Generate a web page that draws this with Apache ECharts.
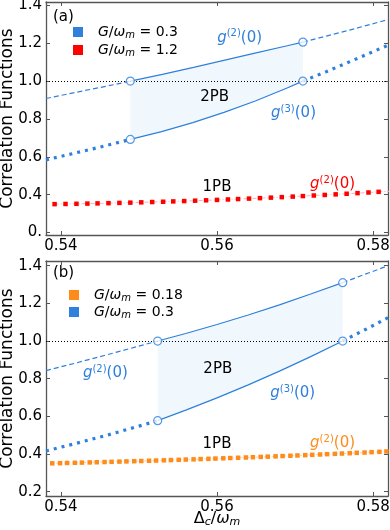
<!DOCTYPE html>
<html><head><meta charset="utf-8">
<script src="https://cdn.jsdelivr.net/npm/echarts@6/dist/echarts.min.js"></script>
<style>html,body{margin:0;padding:0;background:#fff}#c{width:390px;height:530px}</style>
</head><body><div id="c"></div>
<script>
// ---------- DATA ----------
const xTicks = [0.54, 0.56, 0.58];
const yTicks = [0.2, 0.4, 0.6, 0.8, 1.0, 1.2, 1.4];
const yTickLabelsA = ['0.', '0.4', '0.6', '0.8', '1.0', '1.2', '1.4'];
const yTickLabelsB = ['0.2', '0.4', '0.6', '0.8', '1.0', '1.2', '1.4'];

// Panel (a), G/wm = 0.3
const aG2Dash1X = [0.5381, 0.5410, 0.5440, 0.5470, 0.5489];
const aG2Dash1Y = [0.908, 0.933, 0.958, 0.983, 1.000];
const aG2SolidX = [0.5489, 0.5530, 0.5570, 0.5610, 0.5650, 0.5690, 0.5710];
const aG2SolidY = [1.000, 1.036, 1.073, 1.111, 1.149, 1.187, 1.206];
const aG2Dash2X = [0.5710, 0.5740, 0.5780, 0.5819];
const aG2Dash2Y = [1.206, 1.238, 1.281, 1.325];
const aG3Dot1X = [0.5381, 0.5410, 0.5440, 0.5470, 0.5489];
const aG3Dot1Y = [0.584, 0.612, 0.641, 0.672, 0.692];
const aG3SolidX = [0.5489, 0.5529, 0.5569, 0.5609, 0.5649, 0.5689, 0.5710];
const aG3SolidY = [0.692, 0.733, 0.781, 0.835, 0.895, 0.962, 1.000];
const aG3Dot2X = [0.5710, 0.5740, 0.5780, 0.5819];
const aG3Dot2Y = [1.000, 1.050, 1.120, 1.190];

// Panel (a), G/wm = 1.2 (red)
const aRedX = [0.5392, 0.5406, 0.5420, 0.5434, 0.5447, 0.5461, 0.5475, 0.5489, 0.5503, 0.5517, 0.5531, 0.5544, 0.5558, 0.5572, 0.5586, 0.5600, 0.5614, 0.5627, 0.5641, 0.5655, 0.5669, 0.5683, 0.5697, 0.5710, 0.5724, 0.5738, 0.5752, 0.5766, 0.5780, 0.5794, 0.5807, 0.5821];
const aRedY = [0.3500, 0.3509, 0.3518, 0.3529, 0.3540, 0.3552, 0.3566, 0.3580, 0.3595, 0.3611, 0.3627, 0.3645, 0.3663, 0.3683, 0.3703, 0.3724, 0.3747, 0.3770, 0.3793, 0.3818, 0.3844, 0.3870, 0.3898, 0.3926, 0.3956, 0.3986, 0.4017, 0.4049, 0.4082, 0.4115, 0.4150, 0.4185];

// Panel (b), G/wm = 0.3
const bG2Dash1X = [0.5381, 0.5420, 0.5460, 0.5500, 0.5524];
const bG2Dash1Y = [0.843, 0.884, 0.928, 0.973, 1.000];
const bG2SolidX = [0.5524, 0.5560, 0.5600, 0.5640, 0.5680, 0.5720, 0.5761];
const bG2SolidY = [1.000, 1.040, 1.088, 1.138, 1.192, 1.250, 1.310];
const bG2Dash2X = [0.5761, 0.5790, 0.5819];
const bG2Dash2Y = [1.310, 1.355, 1.400];
const bG3Dot1X = [0.5381, 0.5420, 0.5460, 0.5500, 0.5524];
const bG3Dot1Y = [0.416, 0.457, 0.501, 0.548, 0.577];
const bG3SolidX = [0.5524, 0.5560, 0.5600, 0.5640, 0.5680, 0.5720, 0.5761];
const bG3SolidY = [0.577, 0.633, 0.698, 0.767, 0.840, 0.917, 1.000];
const bG3Dot2X = [0.5761, 0.5790, 0.5819];
const bG3Dot2Y = [1.000, 1.061, 1.124];

// Panel (b), G/wm = 0.18 (orange)
const bOrX = [0.5389, 0.5399, 0.5408, 0.5418, 0.5427, 0.5437, 0.5446, 0.5456, 0.5465, 0.5475, 0.5484, 0.5494, 0.5503, 0.5513, 0.5522, 0.5532, 0.5541, 0.5551, 0.5560, 0.5570, 0.5579, 0.5589, 0.5598, 0.5608, 0.5617, 0.5627, 0.5637, 0.5646, 0.5656, 0.5665, 0.5675, 0.5684, 0.5694, 0.5703, 0.5713, 0.5722, 0.5732, 0.5741, 0.5751, 0.5760, 0.5770, 0.5779, 0.5789, 0.5798, 0.5808, 0.5817];
const bOrY = [0.3505, 0.3514, 0.3524, 0.3533, 0.3543, 0.3553, 0.3563, 0.3574, 0.3585, 0.3596, 0.3607, 0.3618, 0.3630, 0.3642, 0.3654, 0.3666, 0.3678, 0.3691, 0.3704, 0.3717, 0.3731, 0.3744, 0.3758, 0.3772, 0.3786, 0.3800, 0.3815, 0.3830, 0.3845, 0.3860, 0.3876, 0.3892, 0.3908, 0.3924, 0.3940, 0.3957, 0.3974, 0.3991, 0.4008, 0.4025, 0.4043, 0.4061, 0.4079, 0.4097, 0.4116, 0.4135];

// Annotations (data coordinates)
const annA = [
  {text: 'g2', x: 0.5629, y: 1.229, color: 'blue'},
  {text: '2PB', x: 0.5597, y: 0.915, color: 'black'},
  {text: 'g3', x: 0.5698, y: 0.829, color: 'blue'},
  {text: '1PB', x: 0.5600, y: 0.440, color: 'black'},
  {text: 'g2', x: 0.5748, y: 0.456, color: 'red'}
];
const annB = [
  {text: 'g2', x: 0.5457, y: 0.830, color: 'blue'},
  {text: '2PB', x: 0.5601, y: 0.851, color: 'black'},
  {text: 'g3', x: 0.5697, y: 0.723, color: 'blue'},
  {text: '1PB', x: 0.5600, y: 0.452, color: 'black'},
  {text: 'g2', x: 0.5748, y: 0.457, color: 'orange'}
];

// ---------- STYLE ----------
const BLUE = '#2f80dc', RED = '#ff0000', ORANGE = '#ff8c1a', SHADE = '#f0f8fd';
const COLORS = {blue: BLUE, red: RED, orange: ORANGE, black: '#000'};
const FONT = 'DejaVu Sans';
const XMIN = 0.5381, XMAX = 0.5819;
const YR = [[0.187, 1.418], [0.177, 1.425]];
const AX = '#555';

const zip = (xs, ys) => xs.map((x, i) => [x, ys[i]]);

function lineS(name, xs, ys, g, color, width, type, z) {
  return {type: 'line', name, xAxisIndex: 2 * g, yAxisIndex: 2 * g, data: zip(xs, ys),
    symbol: 'none', showSymbol: false, silent: true, clip: true, z: z || 3,
    itemStyle: {color}, lineStyle: {color, width, type, cap: 'butt'}};
}
function markS(name, xs, ys, g, color, lineColor, lineType) {
  return {type: 'line', name, xAxisIndex: 2 * g, yAxisIndex: 2 * g, data: zip(xs, ys),
    symbol: 'rect', symbolSize: 4.5, showSymbol: true, showAllSymbol: true, silent: true, clip: true, z: 4,
    itemStyle: {color, borderWidth: 0}, lineStyle: {color: lineColor, width: 1, type: lineType}};
}
function refLine(g) {
  return {type: 'line', name: 'ref' + g, xAxisIndex: 2 * g, yAxisIndex: 2 * g, data: [], silent: true, z: 2,
    markLine: {silent: true, symbol: ['none', 'none'], label: {show: false},
      lineStyle: {color: '#000', width: 1, type: [1, 2]}, data: [{yAxis: 1}]}};
}
function shade(g, x2, y2, x3, y3) {
  return {type: 'custom', xAxisIndex: 2 * g, yAxisIndex: 2 * g, silent: true, z: 1,
    data: [[x2[0], y2[0]]],
    renderItem: (params, api) => {
      const pts = zip(x2, y2).concat(zip(x3, y3).reverse()).map(p => api.coord(p));
      return {type: 'polygon', shape: {points: pts}, style: {fill: SHADE}};
    }};
}
function circles(g, x2, y2, x3, y3) {
  const n2 = x2.length - 1, n3 = x3.length - 1;
  return {type: 'scatter', xAxisIndex: 2 * g, yAxisIndex: 2 * g, silent: true, z: 6,
    data: [[x2[0], y2[0]], [x2[n2], y2[n2]], [x3[0], y3[0]], [x3[n3], y3[n3]]],
    symbol: 'circle', symbolSize: 8,
    itemStyle: {color: '#fff', borderColor: BLUE, borderWidth: 1.2}};
}

const grids = [
  {left: 46, top: 2, width: 342, height: 233, outerBoundsMode: 'none', containLabel: false},
  {left: 46, top: 261, width: 342, height: 235, outerBoundsMode: 'none', containLabel: false}
];
const xAxes = [], yAxes = [];
[0, 1].forEach(g => {
  const base = {type: 'value', gridIndex: g, min: XMIN, max: XMAX, splitLine: {show: false},
    axisLine: {show: true, onZero: false, lineStyle: {color: AX, width: 1.3}},
    axisTick: {show: true, inside: true, length: 4, customValues: xTicks, lineStyle: {color: AX, width: 1}}};
  xAxes.push(Object.assign({}, base, {position: 'bottom',
    axisLabel: {show: true, customValues: xTicks, formatter: v => v.toFixed(2), color: '#000', fontSize: 15, fontFamily: FONT, margin: 4},
    name: g === 1 ? '{n|Δ}{sub|c}{n|/}{i|ω}{sub|m}' : '', nameLocation: 'middle', nameGap: 14, nameMoveOverlap: false,
    nameTextStyle: {color: '#000', fontFamily: FONT, rich: {
      n: {fontSize: 16, fontFamily: FONT, color: '#000', lineHeight: 18},
      i: {fontSize: 16, fontFamily: FONT, fontStyle: 'italic', color: '#000', lineHeight: 18},
      sub: {fontSize: 11, fontFamily: FONT, fontStyle: 'italic', color: '#000', lineHeight: 8, verticalAlign: 'bottom'}}}}));
  xAxes.push(Object.assign({}, base, {position: 'top', axisLabel: {show: false}}));
  const labels = g === 0 ? yTickLabelsA : yTickLabelsB;
  const ybase = {type: 'value', gridIndex: g, min: YR[g][0], max: YR[g][1], splitLine: {show: false},
    axisLine: {show: true, onZero: false, lineStyle: {color: AX, width: 1.3}},
    axisTick: {show: true, inside: true, length: 4, customValues: yTicks, lineStyle: {color: AX, width: 1}}};
  yAxes.push(Object.assign({}, ybase, {position: 'left',
    axisLabel: {show: true, customValues: yTicks, color: '#000', fontSize: 15, fontFamily: FONT, margin: 4,
      formatter: v => { let k = 0; yTicks.forEach((t, i) => { if (Math.abs(t - v) < 1e-6) k = i; }); return labels[k]; }},
    name: 'Correlation Functions', nameLocation: 'middle', nameGap: 30, nameRotate: 90, nameMoveOverlap: false,
    nameTextStyle: {color: '#000', fontSize: 17, fontFamily: FONT}}));
  yAxes.push(Object.assign({}, ybase, {position: 'right', axisLabel: {show: false}}));
});

const series = [
  shade(0, aG2SolidX, aG2SolidY, aG3SolidX, aG3SolidY),
  refLine(0),
  lineS('a03', aG2Dash1X, aG2Dash1Y, 0, BLUE, 1.2, [5, 3]),
  lineS('a03', aG2SolidX, aG2SolidY, 0, BLUE, 1.2, 'solid'),
  lineS('a03', aG2Dash2X, aG2Dash2Y, 0, BLUE, 1.2, [5, 3]),
  lineS('a03', aG3Dot1X, aG3Dot1Y, 0, BLUE, 3.2, [3, 5]),
  lineS('a03', aG3SolidX, aG3SolidY, 0, BLUE, 1.2, 'solid'),
  lineS('a03', aG3Dot2X, aG3Dot2Y, 0, BLUE, 3.2, [3, 5]),
  circles(0, aG2SolidX, aG2SolidY, aG3SolidX, aG3SolidY),
  markS('a12', aRedX, aRedY, 0, RED, '#ffb0b0', [4, 2, 1, 2]),

  shade(1, bG2SolidX, bG2SolidY, bG3SolidX, bG3SolidY),
  refLine(1),
  markS('b018', bOrX, bOrY, 1, ORANGE, '#ffcc9e', [2, 2]),
  lineS('b03', bG2Dash1X, bG2Dash1Y, 1, BLUE, 1.2, [5, 3]),
  lineS('b03', bG2SolidX, bG2SolidY, 1, BLUE, 1.2, 'solid'),
  lineS('b03', bG2Dash2X, bG2Dash2Y, 1, BLUE, 1.2, [5, 3]),
  lineS('b03', bG3Dot1X, bG3Dot1Y, 1, BLUE, 3.2, [3, 5]),
  lineS('b03', bG3SolidX, bG3SolidY, 1, BLUE, 1.2, 'solid'),
  lineS('b03', bG3Dot2X, bG3Dot2Y, 1, BLUE, 3.2, [3, 5]),
  circles(1, bG2SolidX, bG2SolidY, bG3SolidX, bG3SolidY)
];

const legendText = {
  a03: '{i|G}{n|/}{i|ω}{sub|m}{n| = 0.3}',
  a12: '{i|G}{n|/}{i|ω}{sub|m}{n| = 1.2}',
  b018: '{i|G}{n|/}{i|ω}{sub|m}{n| = 0.18}',
  b03: '{i|G}{n|/}{i|ω}{sub|m}{n| = 0.3}'
};
const legRich = {
  n: {fontSize: 14, fontFamily: FONT, color: '#000', lineHeight: 16},
  i: {fontSize: 14, fontFamily: FONT, fontStyle: 'italic', color: '#000', lineHeight: 16},
  sub: {fontSize: 10, fontFamily: FONT, fontStyle: 'italic', color: '#000', lineHeight: 8, verticalAlign: 'bottom'}
};
function legend(names, left, top, gap) {
  return {data: names, left, top, padding: 0, orient: 'vertical', icon: 'rect', itemWidth: 10, itemHeight: 10, itemGap: gap,
    selectedMode: false, formatter: n => legendText[n],
    textStyle: {fontFamily: FONT, fontSize: 14, padding: [0, 0, 0, 10], rich: legRich}};
}

const chart = echarts.init(document.getElementById('c'), null, {renderer: 'canvas'});
chart.setOption({
  animation: false,
  textStyle: {fontFamily: FONT},
  grid: grids, xAxis: xAxes, yAxis: yAxes, series,
  legend: [legend(['a03', 'a12'], 73, 25, 3), legend(['b018', 'b03'], 69, 288, 2)]
});

const labRich = (color) => ({
  n: {fontSize: 15, fontFamily: FONT, color, lineHeight: 18},
  i: {fontSize: 15, fontFamily: FONT, fontStyle: 'italic', color, lineHeight: 18},
  sup: {fontSize: 10, fontFamily: FONT, color, lineHeight: 8, verticalAlign: 'top'}
});
function labelText(t) {
  if (t === 'g2') return '{i|g}{sup|(2)}{n|(0)}';
  if (t === 'g3') return '{i|g}{sup|(3)}{n|(0)}';
  return '{n|' + t + '}';
}
const graphic = [];
[[annA, 0], [annB, 1]].forEach(([list, g]) => {
  list.forEach(a => {
    const p = chart.convertToPixel({xAxisIndex: 2 * g, yAxisIndex: 2 * g}, [a.x, a.y]);
    const c = COLORS[a.color];
    graphic.push({type: 'text', x: p[0], y: p[1], z: 20, silent: true,
      style: {text: labelText(a.text), align: 'center', verticalAlign: 'middle', rich: labRich(c), fill: c}});
  });
});
[['(a)', 0, 17.5], ['(b)', 1, 273]].forEach(([t, g, yy]) => {
  graphic.push({type: 'text', x: 53, y: yy, z: 20, silent: true,
    style: {text: t, fontSize: 15, fontFamily: FONT, fill: '#000', align: 'left', verticalAlign: 'middle'}});
});
chart.setOption({graphic});
</script></body></html>
